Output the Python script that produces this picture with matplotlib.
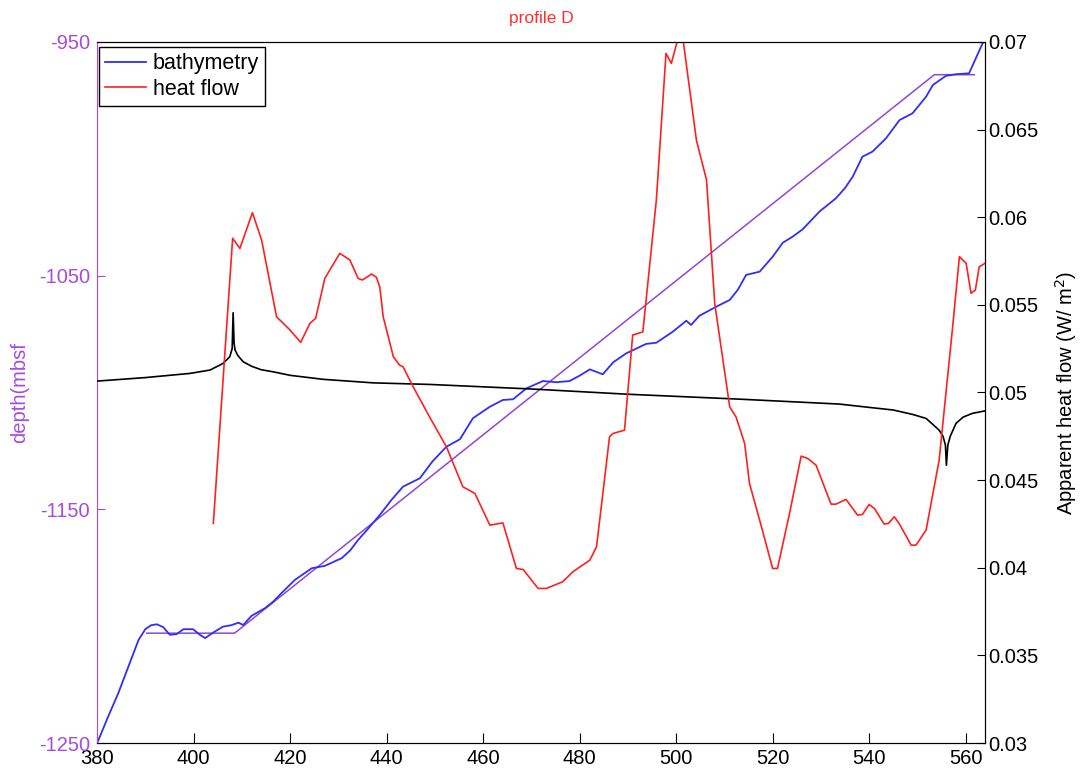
import matplotlib
matplotlib.use("Agg")
import matplotlib.pyplot as plt

# bathymetry profile (distance, depth in mbsf)
dist_bathy = [380.0, 380.3, 382.3, 384.4, 386.5, 388.6, 390.0, 391.2, 392.4, 393.7, 395.1, 396.5,
              397.9, 399.9, 401.3, 402.4, 404.1, 406.1, 407.8, 409.3, 410.3, 412.0, 414.8,
              416.5, 418.2, 421.0, 424.5, 427.2, 430.7, 432.5, 434.1, 436.3, 438.6, 441.0,
              443.4, 446.9, 449.5, 452.4, 455.2, 457.9, 461.4, 464.1, 466.2, 469.0, 472.4,
              475.2, 477.9, 480.0, 482.1, 484.8, 487.0, 489.7, 493.8, 495.9, 499.3, 502.1,
              503.1, 504.8, 508.3, 511.1, 512.8, 514.5, 517.3, 520.0, 522.1, 524.0, 526.2,
              529.7, 533.1, 535.0, 536.6, 538.6, 540.7, 543.5, 546.3, 549.0, 551.8, 553.2,
              555.9, 558.0, 560.7, 563.5, 564.0]
depth_bathy = [-1250.0, -1248.7, -1238.7, -1228.7, -1217.3, -1205.9, -1201.3, -1199.6, -1199.2,
               -1200.4, -1203.7, -1203.4, -1201.3, -1201.3, -1203.7, -1205.1, -1202.7, -1200.2,
               -1199.6, -1198.5, -1199.5, -1195.6, -1192.3, -1189.5, -1185.9, -1180.2,
               -1175.2, -1174.2, -1170.9, -1167.5, -1163.1, -1158.0, -1152.4, -1146.0,
               -1140.3, -1136.7, -1129.5, -1123.2, -1120.0, -1111.0, -1106.1, -1103.2,
               -1102.9, -1098.2, -1095.1, -1095.6, -1095.1, -1092.8, -1090.1, -1092.2,
               -1087.0, -1083.2, -1079.2, -1078.7, -1074.0, -1069.3, -1071.1, -1067.2,
               -1063.3, -1060.4, -1056.0, -1049.7, -1048.3, -1041.9, -1035.9, -1033.5,
               -1030.2, -1022.6, -1016.9, -1012.5, -1007.6, -999.1, -996.9, -991.2, -983.4,
               -980.5, -973.4, -968.4, -964.5, -963.8, -963.4, -950.6, -949.0]

# simplified (fitted) depth profile
dist_fit = [390.3, 408.5, 553.5, 561.8]
depth_fit = [-1203.0, -1203.0, -964.0, -964.0]

# apparent heat flow (W/m^2)
dist_hf = [404.1, 408.1, 409.6, 412.2, 414.1, 417.2, 420.0, 422.2, 424.1, 425.3, 427.2,
           430.3, 432.4, 434.1, 435.0, 436.9, 437.9, 438.6, 439.3, 441.4, 442.7, 443.4,
           445.5, 448.9, 452.4, 455.8, 458.3, 461.4, 464.1, 466.9, 468.3, 471.4, 473.1,
           476.5, 478.6, 482.1, 483.5, 486.2, 486.9, 489.3, 491.0, 493.1, 495.9, 497.9,
           499.0, 500.4, 501.4, 504.2, 506.3, 508.0, 511.1, 512.4, 514.2, 515.2, 517.3,
           520.0, 521.0, 523.5, 525.9, 527.3, 529.0, 532.1, 533.1, 535.2, 537.6, 538.6,
           540.0, 541.1, 543.1, 544.0, 545.2, 546.2, 548.7, 549.7, 551.8, 554.5, 557.3,
           558.7, 560.1, 561.1, 562.0, 562.8, 564.0]
heat_flow = [0.04253, 0.0588, 0.05822, 0.06026, 0.0587, 0.05432, 0.05356, 0.05286, 0.05394,
             0.05423, 0.05651, 0.05794, 0.05756, 0.05651, 0.05642, 0.05676, 0.05657,
             0.05600, 0.05432, 0.05204, 0.05156, 0.05147, 0.05033, 0.04861, 0.04690,
             0.04462, 0.04424, 0.04243, 0.04256, 0.03996, 0.0399, 0.03882, 0.03882,
             0.0392, 0.03977, 0.04043, 0.04119, 0.04747, 0.04766, 0.04785, 0.05328,
             0.05346, 0.06098, 0.06935, 0.06878, 0.0702, 0.0702, 0.0644, 0.06212, 0.05508,
             0.04918, 0.04861, 0.04709, 0.04481, 0.04272, 0.03996, 0.03996, 0.0431,
             0.04637, 0.04623, 0.04585, 0.04363, 0.04363, 0.0439, 0.043, 0.04304, 0.04361,
             0.04338, 0.04249, 0.04253, 0.04291, 0.04253, 0.04129, 0.04129, 0.04215,
             0.04614, 0.05375, 0.05775, 0.05737, 0.05566, 0.05584, 0.05717, 0.05737]

# reference heat flow curve (black)
dist_ref = [380.0, 390.0, 399.3, 403.4, 405.0, 406.1, 407.0, 407.5, 408.0, 408.2, 408.4,
            408.6, 409.2, 410.3, 412.0, 414.0, 416.5, 420.0, 426.9, 437.2, 448.9, 470.0,
            490.0, 513.1, 533.8, 540.0, 545.0, 549.0, 551.8, 553.5, 554.5, 555.3, 555.8,
            556.0, 556.3, 556.8, 558.0, 559.5, 561.4, 564.0]
hf_ref = [0.05065, 0.05085, 0.05109, 0.05128, 0.0515, 0.05166, 0.0519, 0.05204, 0.0525,
          0.05455, 0.0528, 0.05242, 0.0521, 0.05175, 0.0515, 0.0513, 0.05118, 0.05098,
          0.05075, 0.05055, 0.05046, 0.0502, 0.0499, 0.04962, 0.04934, 0.04915, 0.049,
          0.04875, 0.04852, 0.0481, 0.04785, 0.0475, 0.047, 0.04585, 0.047, 0.0475,
          0.04824, 0.0486, 0.04881, 0.04895]

x_ticks = [380, 400, 420, 440, 460, 480, 500, 520, 540, 560]
depth_ticks = [-1250, -1150, -1050, -950]
hf_ticks = [0.03, 0.035, 0.04, 0.045, 0.05, 0.055, 0.06, 0.065, 0.07]
hf_labels = ["0.03", "0.035", "0.04", "0.045", "0.05", "0.055", "0.06", "0.065", "0.07"]

purple = "#a64be0"
plt.rcParams["font.family"] = ["Liberation Sans", "DejaVu Sans"]
plt.rcParams["font.size"] = 14.5
plt.rcParams["axes.unicode_minus"] = False

fig = plt.figure(figsize=(10.83, 7.73), dpi=100)
ax = fig.add_axes([0.0896, 0.0388, 0.8199, 0.9069])
ax2 = ax.twinx()

# left axis: depth
ax.plot(dist_fit, depth_fit, color="#9146d6", lw=1.1)
l_bathy, = ax.plot(dist_bathy, depth_bathy, color="#2f2ff5", lw=1.3, label="bathymetry")
ax.set_xlim(380, 564)
ax.set_ylim(-1250, -950)
ax.set_xticks(x_ticks)
ax.set_yticks(depth_ticks)
ax.tick_params(axis="y", direction="in", length=6, colors=purple, pad=5)
ax.tick_params(axis="x", direction="in", length=7, pad=4)
ax.spines["left"].set_color(purple)
ax.set_ylabel("depth(mbsf", color=purple)
ax.yaxis.set_label_coords(-0.076, 0.5)
ax.set_title("profile D", color="#ff3030", fontsize=12.5, pad=14)

# right axis: heat flow
ax2.plot(dist_ref, hf_ref, color="black", lw=1.2)
l_hf, = ax2.plot(dist_hf, heat_flow, color="#ff2020", lw=1.2, label="heat flow")
ax2.set_ylim(0.03, 0.07)
ax2.set_yticks(hf_ticks)
ax2.set_yticklabels(hf_labels)
ax2.tick_params(axis="y", direction="in", length=6, pad=2)
ax2.spines["left"].set_visible(False)
ax2.set_ylabel("Apparent heat flow (W/ m$^2$)", fontsize=14.5)
ax2.yaxis.set_label_coords(1.077, 0.5)

leg = ax2.legend(handles=[l_bathy, l_hf], loc="upper left", bbox_to_anchor=(0.002, 0.993),
                 borderaxespad=0, fancybox=False, edgecolor="black", framealpha=1,
                 fontsize=15.5, handlelength=1.9, handletextpad=0.3, borderpad=0.3,
                 labelspacing=0.2)
leg.get_frame().set_linewidth(1.0)

fig.savefig("out.png", dpi=100)
